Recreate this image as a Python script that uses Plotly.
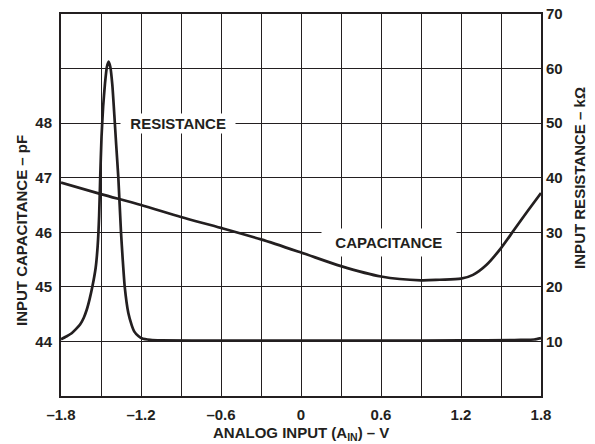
import plotly.graph_objects as go

# Capacitance (left axis, pF)
cap_x = [-1.8, -1.5, -1.2, -0.9, -0.6, -0.3, 0.0, 0.3, 0.6, 0.9, 1.04, 1.2, 1.29, 1.39, 1.5, 1.6, 1.7, 1.8]
cap_y = [46.91, 46.70, 46.50, 46.28, 46.08, 45.87, 45.63, 45.38, 45.19, 45.12, 45.13, 45.15, 45.22, 45.40, 45.71, 46.05, 46.39, 46.72]

# Resistance (right axis, kOhm)
res_x = [-1.8, -1.76, -1.72, -1.69, -1.657, -1.63, -1.607, -1.585, -1.565, -1.54, -1.525, -1.514,
         -1.506, -1.496, -1.484, -1.47, -1.456, -1.443, -1.43, -1.415, -1.4, -1.386, -1.37,
         -1.35, -1.337, -1.322, -1.295, -1.27, -1.25, -1.22, -1.195, -1.13, -1.05,
         -0.6, 0.0, 0.6, 1.2, 1.6, 1.7, 1.75, 1.8]
res_y = [10.4, 10.9, 11.5, 12.2, 13.1, 14.3, 15.8, 17.8, 20.0, 23.5, 27.5, 33.0,
         40.0, 47.5, 53.0, 57.3, 60.3, 61.3, 60.3, 57.0, 51.5, 46.0, 40.0,
         30.0, 25.0, 20.0, 15.2, 13.0, 11.8, 11.0, 10.6, 10.3, 10.2,
         10.15, 10.15, 10.15, 10.2, 10.25, 10.3, 10.35, 10.6]

x_ticks = [-1.8, -1.5, -1.2, -0.9, -0.6, -0.3, 0.0, 0.3, 0.6, 0.9, 1.2, 1.5, 1.8]
x_labels = ["–1.8", "", "–1.2", "", "–0.6", "", "0", "", "0.6", "", "1.2", "", "1.8"]
cap_ticks = [44, 45, 46, 47, 48]
res_ticks = [10, 20, 30, 40, 50, 60, 70]

FONT = "Liberation Sans, Arial, sans-serif"
INK = "#231f20"

fig = go.Figure()
fig.add_trace(go.Scatter(x=cap_x, y=cap_y, mode="lines", yaxis="y",
                         line=dict(color=INK, width=2.7, shape="spline", smoothing=0.8),
                         showlegend=False, hoverinfo="skip"))
fig.add_trace(go.Scatter(x=res_x, y=res_y, mode="lines", yaxis="y2",
                         line=dict(color=INK, width=2.7, shape="spline", smoothing=0.5),
                         showlegend=False, hoverinfo="skip"))

fig.update_layout(
    width=595, height=444,
    margin=dict(l=61, r=54, t=14, b=48, autoexpand=False),
    paper_bgcolor="white", plot_bgcolor="white",
    font=dict(family=FONT, size=15, color=INK, weight="bold"),
    xaxis=dict(range=[-1.8, 1.8], tickvals=x_ticks, ticktext=x_labels,
               showgrid=True, gridcolor=INK, gridwidth=1,
               showline=True, linecolor=INK, linewidth=2, mirror=True,
               ticks="", zeroline=False, ticklabelstandoff=4, automargin=False),
    yaxis=dict(range=[43, 50], tickvals=cap_ticks, showgrid=False,
               showline=True, linecolor=INK, linewidth=2, mirror=True,
               ticks="", zeroline=False, ticklabelstandoff=4, automargin=False),
    yaxis2=dict(range=[0, 70], tickvals=res_ticks, overlaying="y", side="right",
                showgrid=True, gridcolor=INK, gridwidth=1,
                showline=False, ticks="", zeroline=False, ticklabelstandoff=4,
                automargin=False),
)

ann_font = dict(family=FONT, size=15, color=INK, weight="bold")
fig.add_annotation(x=-0.92, y=50, xref="x", yref="y2", text="\u00a0\u00a0RESISTANCE\u00a0\u00a0",
                   showarrow=False, bgcolor="white", borderpad=1, font=ann_font)
fig.add_annotation(x=0.662, y=45.82, xref="x", yref="y", text="\u00a0\u00a0CAPACITANCE\u00a0\u00a0",
                   showarrow=False, bgcolor="white", borderpad=5, font=ann_font)

title_font = dict(family=FONT, size=15, color=INK, weight="bold")
fig.add_annotation(x=0.5, y=0, xref="paper", yref="paper", yshift=-37,
                   text="ANALOG INPUT (A<sub>IN</sub>) – V", showarrow=False,
                   xanchor="center", yanchor="middle", font=title_font)
fig.add_annotation(x=0, y=0.432, xref="paper", yref="paper", xshift=-39,
                   text="INPUT CAPACITANCE – pF", textangle=-90, showarrow=False,
                   xanchor="center", yanchor="middle", font=title_font)
fig.add_annotation(x=1, y=0.571, xref="paper", yref="paper", xshift=39,
                   text="INPUT RESISTANCE – kΩ", textangle=-90, showarrow=False,
                   xanchor="center", yanchor="middle", font=title_font)

fig.write_html("out.html", config={"displayModeBar": False},
               post_script="document.body.style.margin='0';document.body.style.overflow='hidden';")
